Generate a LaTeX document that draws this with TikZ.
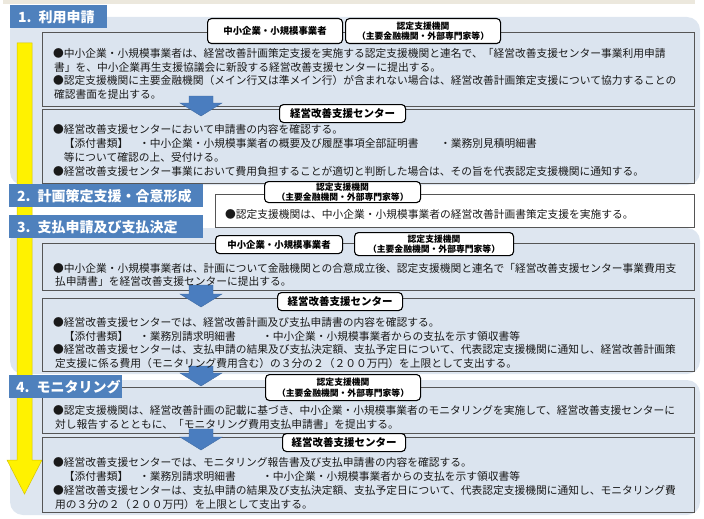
\documentclass[tikz,border=0pt]{standalone}
\usepackage{fontspec}
\setmainfont{Noto Sans CJK JP}
\definecolor{panelc}{HTML}{DEE6F0}
\definecolor{boxc}{HTML}{DBE4EF}
\definecolor{boxline}{HTML}{555555}
\definecolor{hdrc}{HTML}{4F81BD}
\definecolor{arrc}{HTML}{4A7DBF}
\definecolor{txtc}{HTML}{1A1A1A}
\definecolor{beige}{HTML}{ECE8DD}
\definecolor{yelline}{HTML}{D6C400}
\tikzset{
  panel/.style={fill=panelc, draw=none, rounded corners=13pt},
  box/.style={fill=boxc, draw=boxline, line width=0.7pt, anchor=north west, inner sep=0pt},
  wbox/.style={fill=white, draw=boxline, line width=0.7pt, anchor=north west, inner sep=0pt},
  hdr/.style={fill=hdrc, draw=none, text=white, anchor=north west, inner sep=0pt,
    font=\fontsize{14}{16}\selectfont\bfseries, text depth=0pt, align=left},
  tagbox/.style={fill=white, draw=black, line width=1.1pt, rounded corners=4pt, anchor=north west, inner sep=0pt, align=center},
  tagone/.style={tagbox, font=\fontsize{9.4}{11}\selectfont\bfseries},
  tagctr/.style={tagbox, font=\fontsize{10.5}{12}\selectfont\bfseries},
  tagtwo/.style={tagbox, font=\fontsize{8.8}{10.5}\selectfont\bfseries},
  txt/.style={anchor=west, inner sep=0pt, font=\fontsize{10.75}{12}\selectfont, text=txtc},
  blk/.style={fill=arrc, draw=arrc!85!black, line width=0.4pt},
  yel/.style={fill=yellow, draw=yelline, line width=0.5pt}
}
\newcommand\blkarrow[4]{% cx, top, base, tip
  \path[blk] (#1-12,#2) -- (#1+12,#2) -- (#1+12,#3) -- (#1+21,#3) -- (#1,#4) -- (#1-21,#3) -- (#1-12,#3) -- cycle;}
\begin{document}
\begin{tikzpicture}[x=1pt,y=-1pt]
\useasboundingbox (0,0) rectangle (704,519);
% top band
\fill[beige] (3,0) rectangle (695,4);
% panels
\path[panel] (10,17) rectangle (700,185);
\path[panel] (10,228) rectangle (700,374);
\path[panel] (10,380) rectangle (700,515);
% yellow arrow
\path[yel] (17,43) -- (32,43) -- (32,460) -- (42,460) -- (24.5,494) -- (7,460) -- (17,460) -- cycle;
% boxes
\node[box, minimum width=652pt, minimum height=74pt] (b1a) at (42,32) {};
\node[box, minimum width=652pt, minimum height=74pt] (b1b) at (42,109) {};
\node[wbox, minimum width=479pt, minimum height=33pt] (b2) at (215,194) {};
\node[box, minimum width=652pt, minimum height=47pt] (b3a) at (42,243) {};
\node[box, minimum width=652pt, minimum height=73pt] (b3b) at (42,298) {};
\node[box, minimum width=652pt, minimum height=46pt] (b4a) at (42,387) {};
\node[box, minimum width=652pt, minimum height=75pt] (b4b) at (42,437) {};
% block arrows
\blkarrow{201}{96}{103}{116}
\blkarrow{201}{285}{294}{307}
\blkarrow{201}{366}{373}{386}
\blkarrow{201}{429}{437}{450}
% tags
\node[tagone, minimum width=135pt, minimum height=25pt] (t1a) at (207,18) {中小企業・小規模事業者};
\node[tagtwo, minimum width=155pt, minimum height=25pt] (t1b) at (345,18) {認定支援機関\\（主要金融機関・外部専門家等）};
\node[tagctr, minimum width=126pt, minimum height=18pt] (t1c) at (279,104) {経営改善支援センター};
\node[tagtwo, minimum width=156pt, minimum height=21pt] (t2) at (264,181) {認定支援機関\\（主要金融機関・外部専門家等）};
\node[tagone, minimum width=127pt, minimum height=18pt] (t3a) at (215,235) {中小企業・小規模事業者};
\node[tagtwo, minimum width=159pt, minimum height=23pt] (t3b) at (354,232) {認定支援機関\\（主要金融機関・外部専門家等）};
\node[tagctr, minimum width=125pt, minimum height=18pt] (t3c) at (277,292) {経営改善支援センター};
\node[tagtwo, minimum width=155pt, minimum height=26pt] (t4a) at (265,374) {認定支援機関\\（主要金融機関・外部専門家等）};
\node[tagctr, minimum width=123pt, minimum height=18pt] (t4b) at (282,433) {経営改善支援センター};
% headers
\node[hdr, minimum width=97pt, minimum height=23pt, text width=81pt] (h1) at (10,5) {\mbox{1. 利用申請}};
\node[hdr, minimum width=194pt, minimum height=23pt, text width=178pt] (h2) at (9,184) {\mbox{2. 計画策定支援・合意形成}};
\node[hdr, minimum width=194pt, minimum height=23pt, text width=178pt] (h3) at (9,215) {\mbox{3. 支払申請及び支払決定}};
\node[hdr, minimum width=113pt, minimum height=23pt, text width=99pt] (h4) at (9,375) {\mbox{4. モニタリング}};
% texts box 1a
\node[txt] (l11) at (53,53) {●中小企業・小規模事業者は、経営改善計画策定支援を実施する認定支援機関と連名で、「経営改善支援センター事業利用申請};
\node[txt] (l12) at (54,67) {書」を、中小企業再生支援協議会に新設する経営改善支援センターに提出する。};
\node[txt] (l13) at (53,80) {●認定支援機関に主要金融機関（メイン行又は準メイン行）が含まれない場合は、経営改善計画策定支援について協力することの};
\node[txt] (l14) at (54,94) {確認書面を提出する。};
% box 1b
\node[txt] (l21) at (53,129) {●経営改善支援センターにおいて申請書の内容を確認する。};
\node[txt] (l22) at (53,143) {　【添付書類】　・中小企業・小規模事業者の概要及び履歴事項全部証明書　　・業務別見積明細書};
\node[txt] (l23) at (53,157) {　等について確認の上、受付ける。};
\node[txt] (l24) at (53,171) {●経営改善支援センター事業において費用負担することが適切と判断した場合は、その旨を代表認定支援機関に通知する。};
% box 2
\node[txt] (l31) at (225,214) {●認定支援機関は、中小企業・小規模事業者の経営改善計画書策定支援を実施する。};
% box 3a
\node[txt] (l41) at (53,268) {●中小企業・小規模事業者は、計画について金融機関との合意成立後、認定支援機関と連名で「経営改善支援センター事業費用支};
\node[txt] (l42) at (55,281) {払申請書」を経営改善支援センターに提出する。};
% box 3b
\node[txt] (l51) at (53,322) {●経営改善支援センターでは、経営改善計画及び支払申請書の内容を確認する。};
\node[txt] (l52) at (53,336) {　【添付書類】　・業務別請求明細書};
\node[txt] (l52b) at (262,336) {・中小企業・小規模事業者からの支払を示す領収書等};
\node[txt] (l53) at (53,349) {●経営改善支援センターは、支払申請の結果及び支払決定額、支払予定日について、代表認定支援機関に通知し、経営改善計画策};
\node[txt] (l54) at (55,363) {定支援に係る費用（モニタリング費用含む）の３分の２（２００万円）を上限として支出する。};
% box 4a
\node[txt] (l61) at (53,410) {●認定支援機関は、経営改善計画の記載に基づき、中小企業・小規模事業者のモニタリングを実施して、経営改善支援センターに};
\node[txt] (l62) at (55,424) {対し報告するとともに、「モニタリング費用支払申請書」を提出する。};
% box 4b
\node[txt] (l71) at (53,462) {●経営改善支援センターでは、モニタリング報告書及び支払申請書の内容を確認する。};
\node[txt] (l72) at (53,476) {　【添付書類】　・業務別請求明細書};
\node[txt] (l72b) at (262,476) {・中小企業・小規模事業者からの支払を示す領収書等};
\node[txt] (l73) at (53,490) {●経営改善支援センターは、支払申請の結果及び支払決定額、支払予定日について、代表認定支援機関に通知し、モニタリング費};
\node[txt] (l74) at (55,504) {用の３分の２（２００万円）を上限として支出する。};
\end{tikzpicture}
\end{document}
